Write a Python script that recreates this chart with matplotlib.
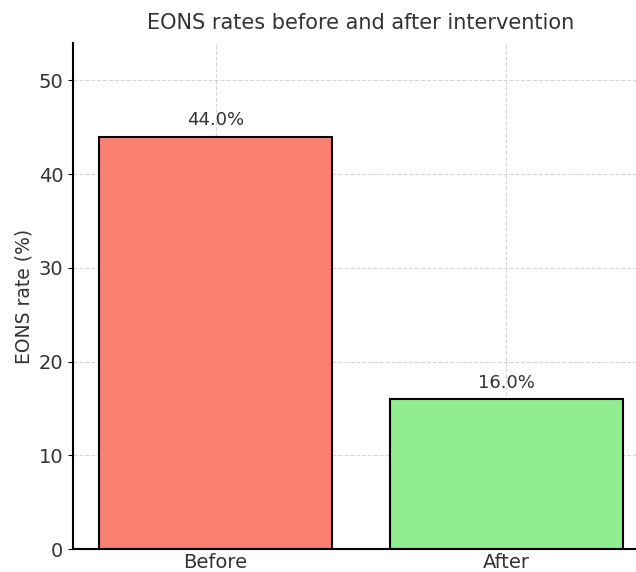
import matplotlib.pyplot as plt

# Data
categories = ['Before', 'After']
eons_rate = [44.0, 16.0]
bar_colors = ['salmon', 'lightgreen']
y_ticks = [0, 10, 20, 30, 40, 50]

fig = plt.figure(figsize=(6.36, 5.72), dpi=100)
# the original is cropped on the right, so the axes run past the figure edge
ax = fig.add_axes([0.115, 0.040, 0.905, 0.885])

bars = ax.bar(categories, eons_rate, color=bar_colors, edgecolor='black',
              linewidth=1.5, width=0.8, zorder=2)

# value labels above the bars
for b, v in zip(bars, eons_rate):
    ax.text(b.get_x() + b.get_width() / 2, v + 0.8, f'{v:.1f}%',
            ha='center', va='bottom', fontsize=13, color='#333333')

ax.set_xlim(-0.49, 1.49)
ax.set_ylim(0, 54)
ax.set_yticks(y_ticks)

ax.set_title('EONS rates before and after intervention', fontsize=15,
             color='#333333', pad=10)
ax.set_ylabel('EONS rate (%)', fontsize=13.5, color='#333333')
ax.tick_params(axis='both', labelsize=14, labelcolor='#333333')
ax.tick_params(axis='x', direction='in', pad=3)

ax.grid(True, linestyle='--', color='#cccccc', linewidth=0.8, alpha=0.8, zorder=0)
ax.set_axisbelow(True)

ax.spines['top'].set_visible(False)
ax.spines['right'].set_visible(False)
ax.spines['left'].set_linewidth(1.5)
ax.spines['bottom'].set_linewidth(1.5)

fig.savefig('out.png', dpi=100)
